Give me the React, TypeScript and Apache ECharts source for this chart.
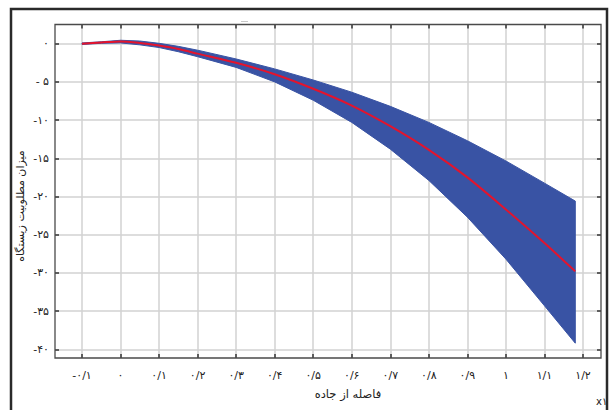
import React, { useEffect, useRef } from 'react';
import * as echarts from 'echarts';

// ---- data ----
const xValues = [-0.1, -0.05, 0, 0.05, 0.1, 0.15, 0.2, 0.3, 0.4, 0.5, 0.6, 0.7, 0.8, 0.9, 1.0, 1.1, 1.18];
const meanValues = [0, 0.15, 0.3, 0.1, -0.25, -0.7, -1.3, -2.5, -4.0, -5.9, -8.1, -10.8, -13.9, -17.5, -21.7, -26.1, -29.8];
const upperValues = [0.1, 0.25, 0.45, 0.35, 0.05, -0.35, -0.85, -2.0, -3.3, -4.75, -6.35, -8.2, -10.3, -12.7, -15.35, -18.25, -20.6];
const lowerValues = [-0.1, 0.05, 0.1, -0.15, -0.5, -1.05, -1.7, -3.1, -5.0, -7.4, -10.3, -13.8, -17.9, -22.7, -28.2, -34.3, -39.2];

const xTickValues = [-0.1, 0, 0.1, 0.2, 0.3, 0.4, 0.5, 0.6, 0.7, 0.8, 0.9, 1.0, 1.1, 1.2];
const xTickLabels = ['-۰/۱', '۰', '۰/۱', '۰/۲', '۰/۳', '۰/۴', '۰/۵', '۰/۶', '۰/۷', '۰/۸', '۰/۹', '۱', '۱/۱', '۱/۲'];
const yTickValues = [0, -5, -10, -15, -20, -25, -30, -35, -40];
const yTickLabels = ['۰', '- ۵', '-۱۰', '-۱۵', '-۲۰', '-۲۵', '-۳۰', '-۳۵', '-۴۰'];

const xAxisTitle = 'فاصله از جاده';
const yAxisTitle = 'میزان مطلوبیت زیستگاه';
const scaleNote = 'x۱';

// ---- layout (pixels) ----
const W = 612;
const H = 410;
const BOX = { l: 55, r: 601, t: 24.5, b: 358 };
const XT = { l: 82, r: 583 }; // pixel of first / last x tick
const YT = { t: 43.7, b: 349.3 }; // pixel of top / bottom y tick

const BAND = '#3953a4';
const RED = '#e3142d';
const GRID = '#d2d2d2';
const FONT = 'DejaVu Sans';

export default function App() {
  const ref = useRef<HTMLDivElement>(null);

  useEffect(() => {
    if (!ref.current) return;
    const chart = echarts.init(ref.current, undefined, { renderer: 'svg' });

    const xFirst = xTickValues[0];
    const xLast = xTickValues[xTickValues.length - 1];
    const yTop = yTickValues[0];
    const yBottom = yTickValues[yTickValues.length - 1];
    const pxPerX = (XT.r - XT.l) / (xLast - xFirst);
    const xMin = xFirst - (XT.l - BOX.l) / pxPerX;
    const xMax = xLast + (BOX.r - XT.r) / pxPerX;
    const pxPerY = (YT.b - YT.t) / (yTop - yBottom);
    const yMax = yTop + (YT.t - BOX.t) / pxPerY;
    const yMin = yBottom - (BOX.b - YT.b) / pxPerY;

    const xLabel = (v: number) => {
      const i = xTickValues.findIndex((t) => Math.abs(t - v) < 1e-6);
      return i >= 0 ? xTickLabels[i] : '';
    };
    const yLabel = (v: number) => {
      const i = yTickValues.findIndex((t) => Math.abs(t - v) < 1e-6);
      return i >= 0 ? yTickLabels[i] : '';
    };

    const tickStyle = { show: true, inside: true, length: 4, lineStyle: { color: '#333', width: 1.5 } };

    const bandData = xValues.map((x, i) => [x, upperValues[i], lowerValues[i]]);

    const option: any = {
      animation: false,
      textStyle: { fontFamily: FONT },
      grid: [
        { left: BOX.l, right: W - BOX.r, top: BOX.t, bottom: H - BOX.b },
        { left: XT.l, right: W - XT.r, top: BOX.t, bottom: H - BOX.b },
        { left: BOX.l, right: W - BOX.r, top: YT.t, bottom: H - YT.b },
      ],
      xAxis: [
        { gridIndex: 0, type: 'value', min: xMin, max: xMax, show: false },
        {
          gridIndex: 1, type: 'value', min: xFirst, max: xLast, interval: 0.1, position: 'bottom',
          axisLine: { show: false }, axisTick: tickStyle,
          splitLine: { show: true, lineStyle: { color: GRID, width: 1.5 } },
          axisLabel: { formatter: xLabel, color: '#222', fontSize: 11, margin: 12, fontFamily: FONT },
        },
        {
          gridIndex: 1, type: 'value', min: xFirst, max: xLast, interval: 0.1, position: 'top',
          axisLine: { show: false }, axisTick: tickStyle, splitLine: { show: false }, axisLabel: { show: false },
        },
        { gridIndex: 2, type: 'value', min: 0, max: 1, show: false },
      ],
      yAxis: [
        { gridIndex: 0, type: 'value', min: yMin, max: yMax, show: false },
        { gridIndex: 1, type: 'value', min: 0, max: 1, show: false },
        {
          gridIndex: 2, type: 'value', min: yBottom, max: yTop, interval: 5, position: 'left',
          axisLine: { show: false }, axisTick: tickStyle,
          splitLine: { show: true, lineStyle: { color: GRID, width: 1.5 } },
          axisLabel: { formatter: yLabel, color: '#222', fontSize: 11, margin: 6, fontFamily: FONT },
        },
        {
          gridIndex: 2, type: 'value', min: yBottom, max: yTop, interval: 5, position: 'right',
          axisLine: { show: false }, axisTick: tickStyle, splitLine: { show: false }, axisLabel: { show: false },
        },
      ],
      series: [
        {
          type: 'custom', coordinateSystem: 'cartesian2d', xAxisIndex: 0, yAxisIndex: 0,
          data: bandData, silent: true, z: 3,
          encode: { x: 0, y: [1, 2] },
          renderItem: (params: any, api: any) => {
            if (params.dataIndex !== 0) return null;
            const top = bandData.map((d) => api.coord([d[0], d[1]]));
            const bottom = bandData.map((d) => api.coord([d[0], d[2]])).reverse();
            return {
              type: 'polygon',
              shape: { points: top.concat(bottom) },
              style: { fill: BAND, stroke: BAND, lineWidth: 1, lineJoin: 'round' },
            };
          },
        },
        {
          type: 'line', xAxisIndex: 0, yAxisIndex: 0,
          data: xValues.map((x, i) => [x, meanValues[i]]),
          symbol: 'none', smooth: 0.3, z: 5,
          lineStyle: { width: 2, color: RED },
        },
      ],
      graphic: [
        {
          type: 'rect', z: 100, silent: true,
          shape: { x: 11, y: 9, width: 596, height: 430 },
          style: { fill: 'none', stroke: '#2a2a2a', lineWidth: 2.5 },
        },
        {
          type: 'rect', z: 100, silent: true,
          shape: { x: BOX.l, y: BOX.t, width: BOX.r - BOX.l, height: BOX.b - BOX.t },
          style: { fill: 'none', stroke: '#4a4a4a', lineWidth: 1.3 },
        },
        {
          type: 'line', z: 100, silent: true,
          shape: { x1: 241, y1: 21.5, x2: 248, y2: 21.5 },
          style: { stroke: '#c8c8c8', lineWidth: 1 },
        },
        {
          type: 'text', z: 100, x: 20, y: 206, rotation: Math.PI / 2,
          style: {
            text: yAxisTitle, fill: '#222', fontSize: 11, fontFamily: FONT,
            align: 'center', verticalAlign: 'middle',
          },
        },
        {
          type: 'text', z: 100, x: 348, y: 394,
          style: {
            text: xAxisTitle, fill: '#222', fontSize: 11.5, fontFamily: FONT,
            align: 'center', verticalAlign: 'middle',
          },
        },
        {
          type: 'text', z: 100, x: 596, y: 401,
          style: {
            text: scaleNote, fill: '#222', fontSize: 10, fontFamily: FONT,
            align: 'left', verticalAlign: 'middle',
          },
        },
      ],
    };

    chart.setOption(option);
    return () => chart.dispose();
  }, []);

  return (
    <div
      ref={ref}
      style={{ position: 'absolute', left: 0, top: 0, width: W, height: H, background: '#fff' }}
    />
  );
}
